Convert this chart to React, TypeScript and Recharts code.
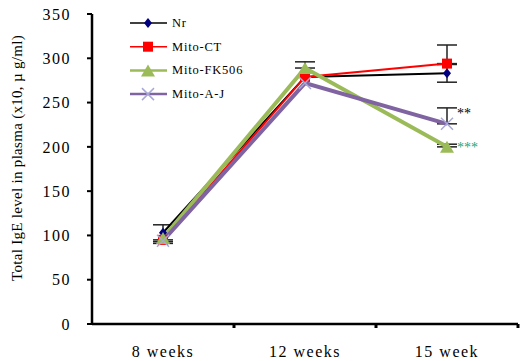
import { LineChart, Line, XAxis, YAxis, ErrorBar } from 'recharts';

const weeks = ['8 weeks', '12 weeks', '15 week'];
const weekPos = [0.5, 1.5, 2.5];
const bounds = [1, 2, 3];

const nr = [103, 279, 283];
const nrErr = [[10, 9], null, [10, 10]];
const ct = [95, 279, 294];
const ctErr = [[4, 0], null, [0, 21]];
const fk = [97, 289, 200];
const fkErr = [null, [0, 7], [0, 3]];
const aj = [94, 272, 226];
const ajErr = [null, null, [0, 18]];

const yTicks = [0, 50, 100, 150, 200, 250, 300, 350];

const SERIES = [
  { key: 'nr', name: 'Nr', color: '#000000', marker: '#000080', width: 2, shape: 'diamond' },
  { key: 'ct', name: 'Mito-CT', color: '#ff0000', marker: '#ff0000', width: 2, shape: 'square' },
  { key: 'fk', name: 'Mito-FK506', color: '#9bbb59', marker: '#9bbb59', width: 4, shape: 'triangle' },
  { key: 'aj', name: 'Mito-A-J', color: '#8064a2', marker: '#a8a8d8', width: 4, shape: 'x' },
];

const marks: Record<string, { text: string; color: string }> = {
  aj: { text: '**', color: '#000000' },
  fk: { text: '***', color: '#1fa37a' },
};

const data = weeks.map((w, i) => ({
  x: weekPos[i],
  label: w,
  nr: nr[i], nrErr: nrErr[i],
  ct: ct[i], ctErr: ctErr[i],
  fk: fk[i], fkErr: fkErr[i],
  aj: aj[i], ajErr: ajErr[i],
}));

const FONT = '"Liberation Serif", "Times New Roman", serif';

function Marker({ cx, cy, shape, fill }: any) {
  if (cx == null || cy == null) return null;
  if (shape === 'diamond') {
    return <polygon points={`${cx},${cy - 5} ${cx + 4},${cy} ${cx},${cy + 5} ${cx - 4},${cy}`} fill={fill} />;
  }
  if (shape === 'square') {
    return <rect x={cx - 5} y={cy - 5} width={10} height={10} fill={fill} />;
  }
  if (shape === 'triangle') {
    return <polygon points={`${cx},${cy - 6} ${cx + 7},${cy + 6} ${cx - 7},${cy + 6}`} fill={fill} />;
  }
  return (
    <g stroke={fill} strokeWidth={1.5}>
      <line x1={cx - 6} y1={cy - 6} x2={cx + 6} y2={cy + 6} />
      <line x1={cx - 6} y1={cy + 6} x2={cx + 6} y2={cy - 6} />
    </g>
  );
}

const XTick = ({ x, y, payload }: any) => {
  const v = payload.value;
  if (bounds.includes(v)) {
    return <rect x={x - 1.5} y={y} width={3} height={4} fill="#000" />;
  }
  const idx = weekPos.indexOf(v);
  return (
    <text x={x} y={y + 33} textAnchor="middle" fontFamily={FONT} fontSize={16} letterSpacing={1.5} fill="#000">
      {weeks[idx]}
    </text>
  );
};

const LegendBox = () => (
  <svg width={140} height={100} style={{ position: 'absolute', left: 128, top: 14 }}>
    {SERIES.map((s, i) => {
      const y = 9 + i * 23.7;
      return (
        <g key={s.key}>
          <line x1={2} x2={39} y1={y} y2={y} stroke={s.color} strokeWidth={s.width === 4 ? 2.5 : 1.5} />
          <Marker cx={20} cy={y} shape={s.shape} fill={s.marker} />
          <text x={44} y={y + 4} fontFamily={FONT} fontSize={12.5} letterSpacing={0.8} fill="#000">
            {s.name}
          </text>
        </g>
      );
    })}
  </svg>
);

const YLabel = () => (
  <text x={22} y={158} transform="rotate(-90 22 158)" textAnchor="middle" fontFamily={FONT} fontSize={15} letterSpacing={0.3} fill="#000">
    Total IgE level in plasma (x10, µ g/ml)
  </text>
);

export default function App() {
  return (
    <div style={{ position: 'absolute', left: 0, top: 0, width: 520, height: 361, background: '#fff' }}>
      <LineChart width={520} height={361} data={data} margin={{ top: 14, right: 2, bottom: 0, left: 0 }}>
        <XAxis
          dataKey="x"
          type="number"
          domain={[0, 3]}
          ticks={[0.5, 1, 1.5, 2, 2.5, 3]}
          interval={0}
          height={37}
          tickSize={0}
          tickMargin={0}
          tickLine={false}
          tick={<XTick />}
          axisLine={{ stroke: '#000', strokeWidth: 2.5 }}
        />
        <YAxis
          domain={[0, 350]}
          ticks={yTicks}
          interval={0}
          width={92}
          tickSize={5}
          tickMargin={16}
          axisLine={{ stroke: '#000', strokeWidth: 2.5 }}
          tickLine={{ stroke: '#000', strokeWidth: 2 }}
          tick={{ fontFamily: FONT, fontSize: 16, letterSpacing: 1.5, fill: '#000' }}
          label={<YLabel />}
        />
        {SERIES.map((s) => (
          <Line
            key={s.key}
            dataKey={s.key}
            name={s.name}
            stroke={s.color}
            strokeWidth={s.width}
            isAnimationActive={false}
            dot={(p: any) => <Marker key={`${s.key}-${p.index}`} cx={p.cx} cy={p.cy} shape={s.shape} fill={s.marker} />}
            activeDot={false}
            label={(p: any) =>
              marks[s.key] && p.index === 2 ? (
                <text key={`lbl-${s.key}`} x={p.x + 10} y={p.y - (s.key === 'aj' ? 6 : -5)} fontFamily={FONT} fontSize={14} fill={marks[s.key].color}>
                  {marks[s.key].text}
                </text>
              ) : null
            }
          >
            <ErrorBar dataKey={`${s.key}Err`} direction="y" width={10} stroke="#222" strokeWidth={1.5} />
          </Line>
        ))}
      </LineChart>
      <LegendBox />
    </div>
  );
}
